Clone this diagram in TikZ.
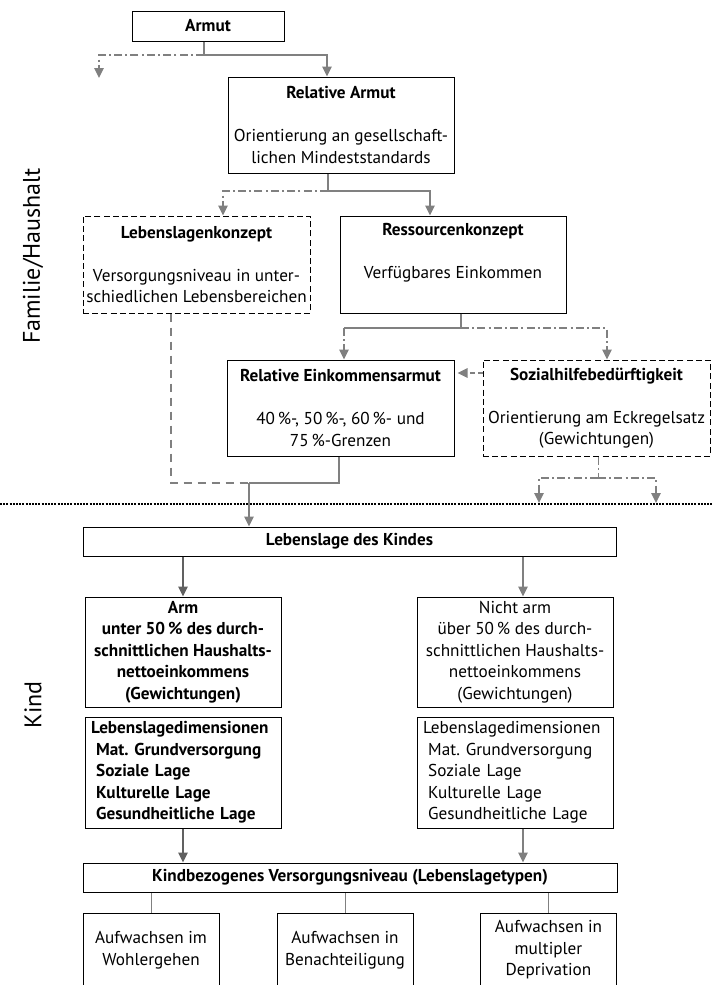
\documentclass[tikz,border=0pt]{standalone}
\usepackage{fontspec}
\setmainfont{PT Sans}
\usetikzlibrary{arrows.meta}
\newcommand{\boxfont}{\fontsize{8.6pt}{10.75pt}\selectfont}
\frenchspacing

\begin{document}
\begin{tikzpicture}[x=0.5pt,y=-0.5pt,font=\boxfont,
    box/.style={draw, line width=0.5pt, align=center, inner sep=0pt},
    dbox/.style={box, dash pattern=on 3pt off 1.6pt},
    bold/.style={font=\boxfont\bfseries},
    dimbox/.style={box, align=left, text width=92pt, inner xsep=3pt, minimum height=55.5pt},
    conn/.style={draw=black!50, line width=1pt},
    conndark/.style={draw=black!62, line width=1pt},
    thinconn/.style={draw=black!50, line width=0.5pt},
    arr/.style={-{Triangle[length=5pt,width=4.6pt]}},
    dashdot/.style={dash pattern=on 4pt off 1.6pt on 1pt off 1.6pt},
    dashline/.style={dash pattern=on 4pt off 3pt},
    sidelabel/.style={font=\fontsize{12pt}{14pt}\selectfont, rotate=90}]

    \useasboundingbox (0,0) rectangle (712,985);
    \clip (0,0) rectangle (712,985);

    % Familie / Haushalt
    \node[box,bold,minimum width=76pt,minimum height=15pt] (armut) at (208,26) {Armut};
    \node[box,minimum width=113pt,minimum height=48pt] (relarmut) at (341,125)
        {\textbf{Relative Armut}\\[10.75pt]Orientierung an gesellschaft-\\lichen Mindeststandards};
    \node[dbox,minimum width=113.5pt,minimum height=48.5pt] (lebkonz) at (196.5,264.5)
        {\textbf{Lebenslagenkonzept}\\[10.75pt]Versorgungsniveau in unter-\\schiedlichen Lebensbereichen};
    \node[box,minimum width=113pt,minimum height=48.5pt] (reskonz) at (453,264.5)
        {\textbf{Ressourcenkonzept}\\[10.75pt]Verfügbares Einkommen\\\strut};
    \node[box,minimum width=113.5pt,minimum height=48pt] (releink) at (340.5,408)
        {\textbf{Relative Einkommensarmut}\\[10.75pt]40\,\%-, 50\,\%-, 60\,\%- und\\75\,\%-Grenzen};
    \node[dbox,minimum width=113.5pt,minimum height=48pt] (sozial) at (596.5,408)
        {\textbf{Sozialhilfebedürftigkeit}\\[10.75pt]Orientierung am Eckregelsatz\\(Gewichtungen)};

    % Kind
    \node[box,bold,minimum width=266.5pt,minimum height=14.5pt] (kindlage) at (349.5,541.5) {Lebenslage des Kindes};
    \node[box,bold,minimum width=98pt,minimum height=55pt] (arm) at (183,652)
        {Arm\\unter 50\,\% des durch-\\schnittlichen Haushalts-\\nettoeinkommens\\(Gewichtungen)};
    \node[box,minimum width=98pt,minimum height=55pt] (nichtarm) at (515,652)
        {Nicht arm\\über 50\,\% des durch-\\schnittlichen Haushalts-\\nettoeinkommens\\(Gewichtungen)};
    \node[dimbox,bold] (dimarm) at (183,772.5)
        {Lebenslagedimensionen\\\hspace*{.3em}Mat. Grundversorgung\\\hspace*{.3em}Soziale Lage\\\hspace*{.3em}Kulturelle Lage\\\hspace*{.3em}Gesundheitliche Lage};
    \node[dimbox] (dimnicht) at (515,772.5)
        {Lebenslagedimensionen\\\hspace*{.3em}Mat. Grundversorgung\\\hspace*{.3em}Soziale Lage\\\hspace*{.3em}Kulturelle Lage\\\hspace*{.3em}Gesundheitliche Lage};
    \node[box,bold,minimum width=267pt,minimum height=14.5pt] (kindniveau) at (350,877.5)
        {Kindbezogenes Versorgungsniveau (Lebenslagetypen)};

    \node[sidelabel] (famlabel) at (33,256) {Familie/Haushalt};
    \node[sidelabel] (kindlabel) at (33,705) {Kind};

    \coordinate (a1) at (204,55);
    \coordinate (a2) at (327,55);
    \coordinate (a3) at (99,78);
    \coordinate (b1) at (328,191);
    \coordinate (b2) at (223,191);
    \coordinate (b3) at (430,191);
    \coordinate (c1) at (461,328);
    \coordinate (c2) at (344,328);
    \coordinate (c3) at (607,328);
    \coordinate (s1) at (0,373);
    \coordinate (d1) at (171,483);
    \coordinate (d2) at (249,483);
    \coordinate (d3) at (339,483);
    \coordinate (e1) at (598,478);
    \coordinate (e2) at (539,503);
    \coordinate (e3) at (656,503);
    \coordinate (f1) at (0,504);
    \coordinate (f2) at (712,504);
    \coordinate (g1) at (523,0);

    \draw[conn] (armut.south -| a1) -- (a1);
    \draw[conn,arr] (a1) -- (a2) -- (a2 |- relarmut.north);
    \draw[conn,dashdot,arr] (a1) -| (a3);

    \draw[conn] (relarmut.south -| b1) -- (b1);
    \draw[conn,dashdot,arr] (b1) -- (b2) -- (b2 |- lebkonz.north);
    \draw[conn,arr] (b1) -- (b3) -- (b3 |- reskonz.north);

    \draw[conn] (reskonz.south -| c1) -- (c1) -- (c2);
    \draw[conn,dashdot,arr] (c2) -- (c2 |- releink.north);
    \draw[conn,dashdot,arr] (c1) -- (c3) -- (c3 |- sozial.north);

    \draw[conn,dash pattern=on 2.5pt off 1.5pt,arr,shorten >=1.5pt] (sozial.west |- s1) -- (releink.east |- s1);

    \draw[conn,dashline] (lebkonz.south -| d1) -- (d1) -- (d2);
    \draw[conn] (releink.south -| d3) -- (d3) -- (d2);
    \draw[conn,arr] (d2) -- (d2 |- kindlage.north);

    \draw[thinconn,dashdot] (sozial.south -| e1) -- (e1);
    \draw[conn,dashdot,arr] (e1) -| (e2);
    \draw[conn,dashdot,arr] (e1) -| (e3);

%    \draw[dotted] (f1) -- (f2);
    \draw[line width=1pt, dash pattern=on 1pt off 0.6pt] (f1) -- (f2);

    \draw[conndark,arr] (kindlage.south -| arm.north) -- (arm.north);
    \draw[conn,arr] (kindlage.south -| g1) -- (g1 |- nichtarm.north);
    \draw[conndark,arr] (dimarm.south) -- (dimarm.south |- kindniveau.north);
    \draw[conn,arr] (dimnicht.south -| g1) -- (g1 |- kindniveau.north);

    \foreach \n/\x/\t in {auf1/151/{Aufwachsen im\\Wohlergehen},
                          auf2/345/{Aufwachsen in\\Benachteiligung},
                          auf3/548.5/{Aufwachsen in\\multipler\\Deprivation}}
    {
    \node[box,minimum width=68pt,minimum height=37pt] (\n) at (\x,950) {\t};
    \draw[thinconn] (\n.north) -- (\n.north |- kindniveau.south);
    }

\end{tikzpicture}
\end{document}
